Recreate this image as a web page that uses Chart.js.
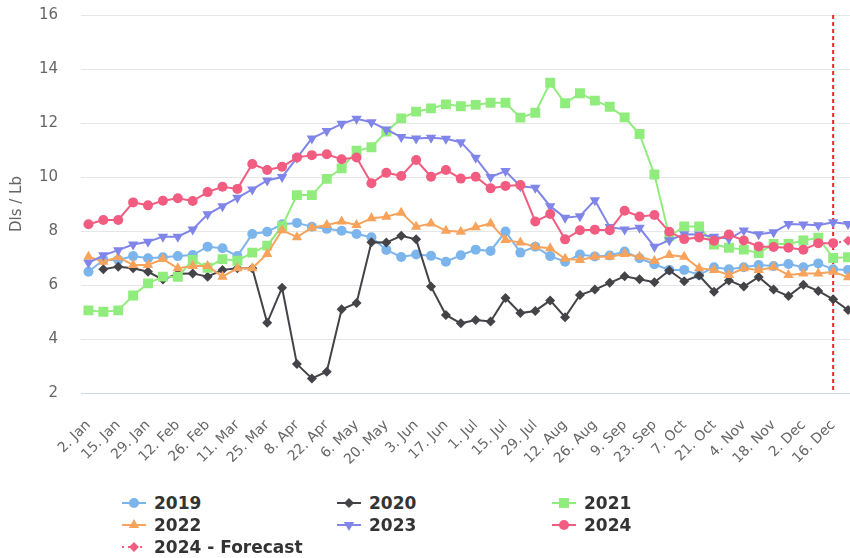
<!DOCTYPE html>
<html>
<head>
<meta charset="utf-8">
<title>Dls / Lb</title>
<script src="https://cdn.jsdelivr.net/npm/chart.js@4.4.1/dist/chart.umd.min.js"></script>
<style>
  html, body { margin: 0; padding: 0; background: #fff; overflow: hidden; }
  body { width: 850px; height: 558px; position: relative; font-family: 'DejaVu Sans', sans-serif; }
  #wrap { position: absolute; left: 0; top: 0; width: 876px; height: 470px; }
  #legend {
    position: absolute; left: 122px; top: 492px;
    display: grid; grid-template-columns: 215px 215px 215px; grid-auto-rows: 22px;
  }
  .item { display: flex; align-items: center; font-weight: bold; font-size: 17px; color: #333; white-space: nowrap; }
  .item canvas { margin-right: 8px; }
</style>
</head>
<body>
<div id="wrap"><canvas id="chart"></canvas></div>
<div id="legend"></div>
<script>
  // week labels (only every second one is shown on the axis)
  const weeks = ['2. Jan', '8. Jan', '15. Jan', '22. Jan', '29. Jan', '5. Feb', '12. Feb', '19. Feb', '26. Feb',
    '4. Mar', '11. Mar', '18. Mar', '25. Mar', '1. Apr', '8. Apr', '15. Apr', '22. Apr', '29. Apr',
    '6. May', '13. May', '20. May', '27. May', '3. Jun', '10. Jun', '17. Jun', '24. Jun',
    '1. Jul', '8. Jul', '15. Jul', '22. Jul', '29. Jul', '5. Aug', '12. Aug', '19. Aug', '26. Aug',
    '2. Sep', '9. Sep', '16. Sep', '23. Sep', '30. Sep', '7. Oct', '14. Oct', '21. Oct', '28. Oct',
    '4. Nov', '11. Nov', '18. Nov', '25. Nov', '2. Dec', '9. Dec', '16. Dec', '23. Dec'];

  const currentWeek = '16. Dec';

  const y2019 = [6.49, 6.93, 6.93, 7.07, 6.99, 7.03, 7.07, 7.11, 7.42, 7.36,
    7.07, 7.89, 7.97, 8.25, 8.30, 8.16, 8.08, 8.01, 7.89, 7.77,
    7.30, 7.04, 7.13, 7.08, 6.86, 7.10, 7.31, 7.26, 7.98, 7.20,
    7.42, 7.07, 6.86, 7.13, 7.06, 7.09, 7.24, 6.99, 6.77, 6.56,
    6.56, 6.37, 6.66, 6.58, 6.66, 6.74, 6.70, 6.78, 6.66, 6.80,
    6.58, 6.56];

  const y2020 = [null, 6.58, 6.68, 6.62, 6.49, 6.20, 6.42, 6.43, 6.31, 6.56,
    6.62, 6.62, 4.60, 5.90, 3.07, 2.54, 2.79, 5.10, 5.33, 7.58,
    7.57, 7.82, 7.69, 5.94, 4.89, 4.58, 4.70, 4.65, 5.52, 4.96,
    5.04, 5.43, 4.81, 5.63, 5.83, 6.08, 6.32, 6.21, 6.10, 6.54,
    6.14, 6.35, 5.75, 6.17, 5.94, 6.30, 5.83, 5.59, 6.01, 5.78,
    5.47, 5.07];

  const y2021 = [5.06, 5.01, 5.06, 5.61, 6.06, 6.31, 6.30, 6.93, 6.64, 6.96,
    6.90, 7.20, 7.46, 8.18, 9.33, 9.33, 9.93, 10.32, 10.97, 11.10,
    11.68, 12.17, 12.42, 12.54, 12.69, 12.62, 12.67, 12.75, 12.75, 12.20,
    12.38, 13.49, 12.73, 13.10, 12.83, 12.60, 12.21, 11.59, 10.09, 7.80,
    8.17, 8.17, 7.50, 7.38, 7.31, 7.18, 7.52, 7.52, 7.65, 7.75,
    7.00, 7.03];

  const y2022 = [7.05, 6.86, 7.03, 6.74, 6.74, 6.96, 6.62, 6.70, 6.70, 6.31,
    6.62, 6.62, 7.15, 8.03, 7.77, 8.12, 8.22, 8.35, 8.22, 8.47,
    8.53, 8.68, 8.16, 8.28, 8.01, 7.97, 8.14, 8.28, 7.67, 7.57,
    7.42, 7.36, 6.97, 6.93, 7.05, 7.05, 7.15, 7.05, 6.89, 7.11,
    7.05, 6.62, 6.56, 6.37, 6.62, 6.56, 6.66, 6.37, 6.43, 6.43,
    6.49, 6.29];

  const y2023 = [6.82, 7.10, 7.29, 7.50, 7.60, 7.79, 7.79, 8.06, 8.62, 8.92,
    9.23, 9.54, 9.87, 10.00, 10.71, 11.43, 11.70, 11.97, 12.16, 12.03,
    11.76, 11.48, 11.43, 11.45, 11.42, 11.29, 10.71, 10.00, 10.22, 9.66,
    9.60, 8.92, 8.49, 8.55, 9.14, 8.15, 8.06, 8.12, 7.42, 7.66,
    7.88, 7.87, 7.79, 7.71, 8.02, 7.88, 7.95, 8.26, 8.24, 8.21,
    8.32, 8.26];

  const y2024 = [8.25, 8.41, 8.41, 9.06, 8.95, 9.12, 9.21, 9.11, 9.44, 9.64,
    9.56, 10.48, 10.26, 10.38, 10.72, 10.81, 10.84, 10.66, 10.72, 9.77,
    10.16, 10.04, 10.63, 10.01, 10.26, 9.94, 10.01, 9.58, 9.67, 9.70,
    8.35, 8.63, 7.69, 8.03, 8.05, 8.03, 8.75, 8.54, 8.59, 7.97,
    7.70, 7.76, 7.64, 7.87, 7.65, 7.43, 7.41, 7.38, 7.31, 7.55,
    7.55, null];

  const forecast2024 = weeks.map(() => null);
  forecast2024[50] = 7.55;
  forecast2024[51] = 7.64;

  const series = [
    { label: '2019', data: y2019, color: '#7cb5ec', style: 'circle', radius: 5 },
    { label: '2020', data: y2020, color: '#434348', style: 'rectRot', radius: 5 },
    { label: '2021', data: y2021, color: '#90ed7d', style: 'rect', radius: 7 },
    { label: '2022', data: y2022, color: '#f7a35c', style: 'triangle', radius: 6 },
    { label: '2023', data: y2023, color: '#8085e9', style: 'triangle', radius: 6, rotation: 180 },
    { label: '2024', data: y2024, color: '#f15c80', style: 'circle', radius: 5 },
    { label: '2024 - Forecast', data: forecast2024, color: '#f15c80', style: 'rectRot', radius: 5, dash: [2, 4] }
  ];

  const datasets = series.map((s, i) => ({
    label: s.label,
    data: s.data,
    borderColor: s.color,
    backgroundColor: s.color,
    borderWidth: 2,
    borderDash: s.dash || [],
    pointStyle: s.style,
    pointRotation: s.rotation || 0,
    pointRadius: s.dash ? (c => c.dataIndex === 50 ? 0 : s.radius) : s.radius,
    pointHoverRadius: s.radius,
    pointBorderWidth: 0,
    pointBackgroundColor: s.color,
    tension: 0,
    order: series.length - i
  }));

  // dashed red line marking the current week
  const currentLine = {
    id: 'currentLine',
    beforeDatasetsDraw(chart) {
      const x = chart.scales.x.getPixelForValue(weeks.indexOf(currentWeek));
      const { top, bottom } = chart.chartArea;
      const ctx = chart.ctx;
      ctx.save();
      ctx.strokeStyle = '#e8262b';
      ctx.lineWidth = 2;
      ctx.setLineDash([4, 3]);
      ctx.beginPath();
      ctx.moveTo(x, top);
      ctx.lineTo(x, bottom);
      ctx.stroke();
      ctx.restore();
    }
  };

  new Chart(document.getElementById('chart'), {
    type: 'line',
    data: { labels: weeks, datasets },
    plugins: [currentLine],
    options: {
      responsive: true,
      maintainAspectRatio: false,
      animation: false,
      layout: { padding: { top: 15, right: 0, bottom: 0, left: 0 } },
      plugins: {
        legend: { display: false },
        tooltip: { enabled: false }
      },
      scales: {
        x: {
          offset: true,
          grid: { display: false },
          border: { color: '#ccd6eb', width: 1 },
          ticks: {
            autoSkip: false,
            minRotation: 45,
            maxRotation: 45,
            padding: 16,
            color: '#666666',
            font: { family: 'DejaVu Sans', size: 14 },
            callback: (v, i) => (i % 2 === 0 ? weeks[i] : '')
          },
          afterFit: s => { s.height = 77; }
        },
        y: {
          min: 2,
          max: 16,
          border: { display: false },
          grid: {
            drawTicks: false,
            color: c => (c.tick && c.tick.value === 2 ? 'rgba(0,0,0,0)' : '#e6e6e6')
          },
          ticks: {
            stepSize: 2,
            padding: 23,
            color: '#666666',
            font: { family: 'DejaVu Sans', size: 15 }
          },
          title: {
            display: true,
            text: 'Dls / Lb',
            color: '#666666',
            font: { family: 'DejaVu Sans', size: 15 },
            padding: { top: 8, bottom: 0 }
          },
          afterFit: s => {
            s.width = 81;
            s.paddingTop = 10;
            s.paddingBottom = 10;
          }
        }
      }
    }
  });

  // legend in three columns, Highcharts style
  const legend = document.getElementById('legend');
  series.forEach(s => {
    const item = document.createElement('div');
    item.className = 'item';
    const sym = document.createElement('canvas');
    sym.width = 24;
    sym.height = 16;
    const c = sym.getContext('2d');
    c.strokeStyle = s.color;
    c.fillStyle = s.color;
    c.lineWidth = 2;
    c.setLineDash(s.dash || []);
    c.beginPath();
    c.moveTo(0, 8);
    c.lineTo(24, 8);
    c.stroke();
    c.setLineDash([]);
    if (Chart.helpers && Chart.helpers.drawPoint) {
      Chart.helpers.drawPoint(c, {
        pointStyle: s.style, radius: s.radius, rotation: s.rotation || 0, borderWidth: 0
      }, 12, 8);
    } else {
      c.beginPath();
      c.arc(12, 8, 5, 0, Math.PI * 2);
      c.fill();
    }
    item.appendChild(sym);
    const txt = document.createElement('span');
    txt.textContent = s.label;
    item.appendChild(txt);
    legend.appendChild(item);
  });
</script>
</body>
</html>
